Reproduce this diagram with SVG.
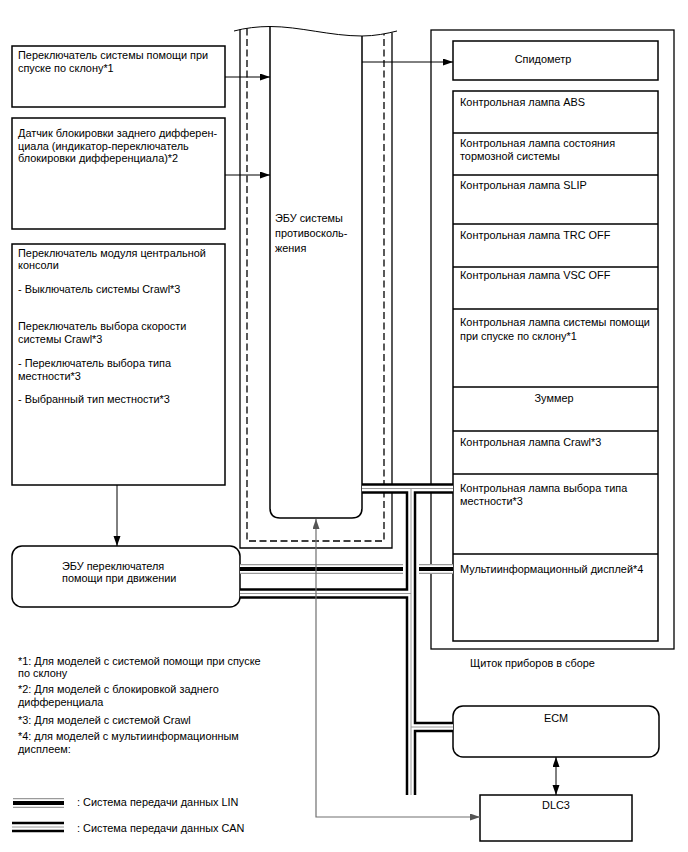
<svg xmlns="http://www.w3.org/2000/svg" width="688" height="852" viewBox="0 0 688 852">
<style>
text{font-family:"Liberation Sans",Arial,sans-serif;font-size:10.9px;fill:#000}
.c{text-anchor:middle}
.box{fill:none;stroke:#000;stroke-width:1.5}
.thin{fill:none;stroke:#000;stroke-width:1.3}
.dash{fill:none;stroke:#000;stroke-width:1.3;stroke-dasharray:7 3.5}
.ln{fill:none;stroke:#000;stroke-width:1}
.gl{fill:none;stroke:#707070;stroke-width:1.2}
.canB{fill:none;stroke:#000;stroke-width:10.5}
.canW{fill:none;stroke:#fff;stroke-width:5.5}
.canG{fill:none;stroke:#9a9a9a;stroke-width:1}
.linG{fill:none;stroke:#9a9a9a;stroke-width:10}
.linW{fill:none;stroke:#fff;stroke-width:7.6}
.linB{fill:none;stroke:#000;stroke-width:4}
</style>
<defs>
<marker id="ah" markerUnits="userSpaceOnUse" markerWidth="11" markerHeight="8" refX="10" refY="3.5" orient="auto"><path d="M0,0 L10,3.5 L0,7 z" fill="#000"/></marker>
<marker id="ahs" markerUnits="userSpaceOnUse" markerWidth="11" markerHeight="8" refX="10" refY="3.5" orient="auto-start-reverse"><path d="M0,0 L10,3.5 L0,7 z" fill="#000"/></marker>
<marker id="ahg" markerUnits="userSpaceOnUse" markerWidth="11" markerHeight="8" refX="10" refY="3.5" orient="auto-start-reverse"><path d="M0,0 L10,3.5 L0,7 z" fill="#555"/></marker>
</defs>

<g id="hill-descent-switch">
<rect class="box" x="12" y="46" width="213" height="61"/>
<text x="18" y="59">Переключатель системы помощи при</text>
<text x="18" y="72">спуске по склону*1</text>
</g>

<g id="rear-diff-lock-sensor">
<rect class="box" x="12" y="118" width="213" height="111"/>
<text x="18" y="137">Датчик блокировки заднего дифферен-</text>
<text x="18" y="150">циала (индикатор-переключатель</text>
<text x="18" y="162">блокировки дифференциала)*2</text>
</g>

<g id="center-console-switch">
<rect class="box" x="12" y="244" width="213" height="241"/>
<text x="18" y="257">Переключатель модуля центральной</text>
<text x="18" y="269">консоли</text>
<text x="18" y="293">- Выключатель системы Crawl*3</text>
<text x="18" y="330">Переключатель выбора скорости</text>
<text x="18" y="343">системы Crawl*3</text>
<text x="18" y="367">- Переключатель выбора типа</text>
<text x="18" y="380">местности*3</text>
<text x="18" y="403">- Выбранный тип местности*3</text>
</g>

<g id="drive-assist-switch-ecu">
<rect class="box" x="12" y="546" width="228" height="61" rx="10"/>
<text x="62" y="570">ЭБУ переключателя</text>
<text x="62" y="582">помощи при движении</text>
</g>

<g id="skid-control-ecu">
<path class="ln" d="M234,31 C245,28 258,26.5 270,26.5 C300,26.5 330,36 362,36 C375,36 387,33.5 397,31"/>
<path class="thin" d="M240,29.5 V548 H392 V32.5"/>
<path class="dash" d="M247,28.5 V541 H384 V34"/>
<path class="box" d="M270,26.5 V508 Q270,518 280,518 H352 Q362,518 362,508 V36"/>
<text x="275" y="222">ЭБУ системы</text>
<text x="275" y="237">противосколь-</text>
<text x="275" y="252">жения</text>
</g>

<g id="combination-meter">
<rect class="thin" x="431" y="30" width="243" height="619"/>
<text x="470" y="667">Щиток приборов в сборе</text>
</g>

<g id="speedometer">
<rect class="box" x="453" y="41" width="205" height="39"/>
<text class="c" x="543" y="63">Спидометр</text>
</g>

<g id="indicator-stack">
<rect class="box" x="453" y="91" width="205" height="550"/>
<path class="box" d="M453,133 H658 M453,175 H658 M453,224 H658 M453,267 H658 M453,309 H658 M453,387 H658 M453,431 H658 M453,474 H658 M453,554 H658"/>
<text x="460" y="105.5">Контрольная лампа ABS</text>
<text x="460" y="147">Контрольная лампа состояния</text>
<text x="460" y="160">тормозной системы</text>
<text x="460" y="189">Контрольная лампа SLIP</text>
<text x="460" y="239">Контрольная лампа TRC OFF</text>
<text x="460" y="279">Контрольная лампа VSC OFF</text>
<text x="460" y="326">Контрольная лампа системы помощи</text>
<text x="460" y="340">при спуске по склону*1</text>
<text class="c" x="554" y="402">Зуммер</text>
<text x="460" y="446">Контрольная лампа Crawl*3</text>
<text x="460" y="492">Контрольная лампа выбора типа</text>
<text x="460" y="505">местности*3</text>
<text x="460" y="573">Мультиинформационный дисплей*4</text>
</g>

<g id="ecm">
<rect class="box" x="453" y="706" width="206" height="51" rx="10"/>
<text class="c" x="556" y="722">ECM</text>
</g>

<g id="dlc3">
<rect class="box" x="480" y="795" width="152" height="46"/>
<text class="c" x="556" y="809">DLC3</text>
</g>

<g id="notes">
<text x="18" y="665">*1: Для моделей с системой помощи при спуске</text>
<text x="18" y="677">по склону</text>
<text x="18" y="693">*2: Для моделей с блокировкой заднего</text>
<text x="18" y="706">дифференциала</text>
<text x="18" y="724">*3: Для моделей с системой Crawl</text>
<text x="18" y="740">*4: для моделей с мультиинформационным</text>
<text x="18" y="753">дисплеем:</text>
</g>

<g id="legend">
<path class="linG" d="M13,803 H64"/>
<path class="linW" d="M13,803 H64"/>
<path class="linB" d="M13,803 H64"/>
<text x="77" y="806">: Система передачи данных LIN</text>
<path class="canB" d="M12,827 H64"/>
<path class="canW" d="M12,827 H64"/>
<path class="canG" d="M12,827 H64"/>
<text x="77" y="832">: Система передачи данных CAN</text>
</g>

<g id="connectors">
<path class="ln" d="M225,77 H270" marker-end="url(#ah)"/>
<path class="ln" d="M225,175 H270" marker-end="url(#ah)"/>
<path class="ln" d="M362,62 H453" marker-end="url(#ah)"/>
<path class="ln" d="M117,485 V546" marker-end="url(#ah)"/>
<path class="ln" d="M556,757 V795" marker-start="url(#ahs)" marker-end="url(#ahs)"/>
<g id="lin-bus">
<path class="linG" d="M240,569 H403 M419,569 H453"/>
<path class="linW" d="M240,569 H403 M419,569 H453"/>
<path class="linB" d="M240,569 H403 M419,569 H453"/>
</g>
<g id="can-bus">
<path class="canB" d="M362,488.5 H453 M411,488.5 V795 M240,593.5 H411 M411,727 H453"/>
<path class="canW" d="M362,488.5 H453 M411,488.5 V795 M240,593.5 H411 M411,727 H453"/>
<path class="canG" d="M362,488.5 H453 M411,488.5 V795 M240,593.5 H411 M411,727 H453"/>
</g>
<path class="gl" d="M316,519 V817 H480" marker-start="url(#ahg)" marker-end="url(#ahg)"/>
</g>
</svg>
